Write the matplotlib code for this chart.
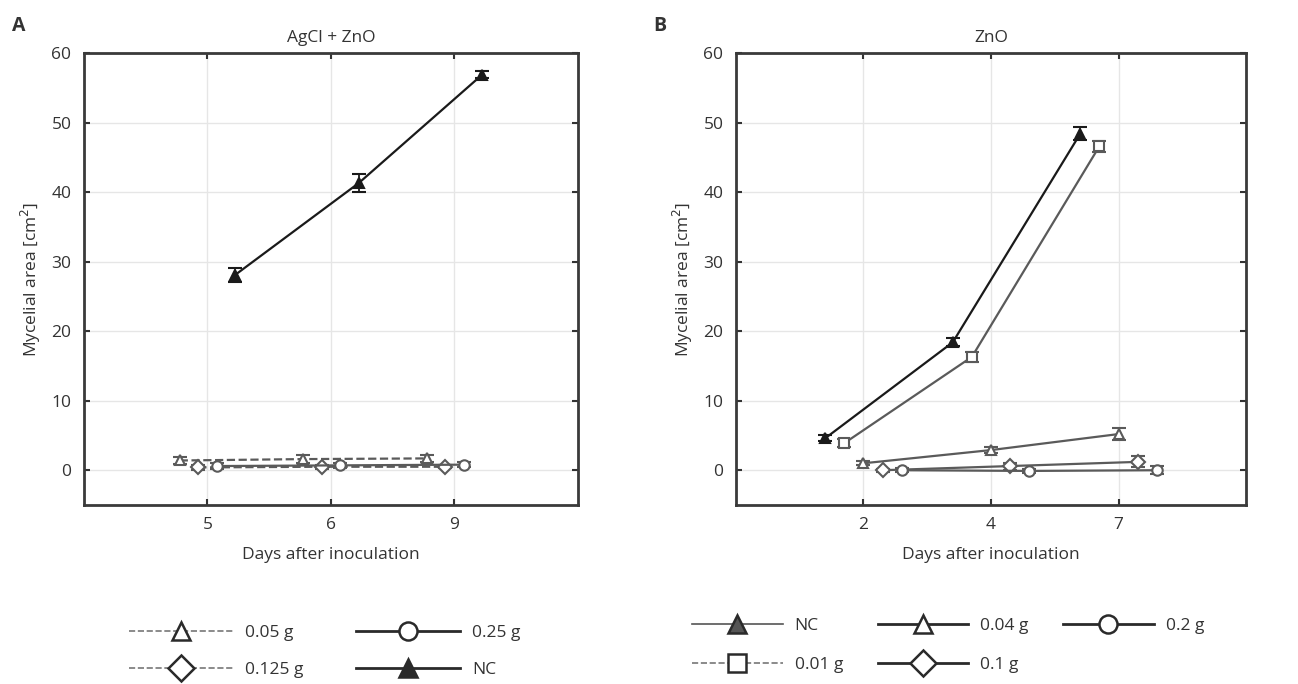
import numpy as np
import matplotlib.pyplot as plt
from matplotlib.lines import Line2D

plt.rcParams['font.family'] = ['Open Sans', 'DejaVu Sans']
plt.rcParams['text.color'] = '#333333'
plt.rcParams['axes.labelcolor'] = '#333333'
plt.rcParams['xtick.color'] = '#333333'
plt.rcParams['ytick.color'] = '#333333'

# panel A: AgCl + ZnO
days_a = ['5', '6', '9']
a_labels = ['0.05 g', '0.125 g', '0.25 g', 'NC']
a_005 = [1.4, 1.6, 1.7]
a_005_err = [0.5, 0.6, 0.5]
a_0125 = [0.4, 0.5, 0.5]
a_0125_err = [0.4, 0.3, 0.2]
a_025 = [0.6, 0.7, 0.8]
a_025_err = [0.4, 0.4, 0.4]
a_nc = [28.1, 41.3, 56.9]
a_nc_err = [1.0, 1.3, 0.5]

# panel B: ZnO
days_b = ['2', '4', '7']
b_labels = ['NC', '0.01 g', '0.04 g', '0.1 g', '0.2 g']
b_nc = [4.6, 18.4, 48.4]
b_nc_err = [0.4, 0.6, 0.9]
b_001 = [3.9, 16.3, 46.6]
b_001_err = [0.6, 0.7, 0.8]
b_004 = [1.0, 2.9, 5.2]
b_004_err = [0.3, 0.4, 0.9]
b_01 = [0.0, 0.6, 1.2]
b_01_err = [0.2, 0.5, 0.8]
b_02 = [0.0, -0.1, 0.0]
b_02_err = [0.3, 0.3, 0.6]

grey = '#5a5a5a'
black = '#1a1a1a'

fig = plt.figure(figsize=(12.98, 6.84), dpi=100)
axA = fig.add_axes([0.0647, 0.2617, 0.3806, 0.6608])
axB = fig.add_axes([0.567, 0.2617, 0.393, 0.6608])


def draw(ax, x, y, err, off, marker, ls, color, filled=False):
    xs = np.arange(len(x)) + off
    ax.errorbar(xs, y, yerr=err, marker=marker, ls=ls, color=color, lw=1.6,
                ms=7.5, mew=1.5, mfc=color if filled else 'white', mec=color,
                capsize=5, elinewidth=1.3, capthick=1.5, zorder=3)


draw(axA, days_a, a_005, a_005_err, -0.225, '^', '--', grey)
draw(axA, days_a, a_0125, a_0125_err, -0.075, 'D', '--', grey)
draw(axA, days_a, a_025, a_025_err, 0.075, 'o', '-', grey)
draw(axA, days_a, a_nc, a_nc_err, 0.225, '^', '-', black, filled=True)

draw(axB, days_b, b_nc, b_nc_err, -0.3, '^', '-', black, filled=True)
draw(axB, days_b, b_001, b_001_err, -0.15, 's', '-', grey)
draw(axB, days_b, b_004, b_004_err, 0.0, '^', '-', grey)
draw(axB, days_b, b_01, b_01_err, 0.15, 'D', '-', grey)
draw(axB, days_b, b_02, b_02_err, 0.3, 'o', '-', grey)

for ax, days, title in [(axA, days_a, 'AgCl + ZnO'), (axB, days_b, 'ZnO')]:
    ax.set_xlim(-1, 3)
    ax.set_ylim(-5, 60)
    ax.set_xticks(range(len(days)))
    ax.set_xticklabels(days)
    ax.set_yticks(range(0, 61, 10))
    ax.grid(True, color='#e6e6e6', lw=1)
    ax.set_axisbelow(True)
    ax.tick_params(direction='in', top=True, right=True, length=4, width=1.5,
                   labelsize=12.5, pad=9)
    for s in ax.spines.values():
        s.set_linewidth(2)
        s.set_color('#3a3a3a')
    ax.set_title(title, fontsize=12.5, pad=8)
    ax.set_xlabel('Days after inoculation', fontsize=12.5, labelpad=10)
    ax.set_ylabel('Mycelial area [cm$^2$]', fontsize=12.5, labelpad=6)

fig.text(0.009, 0.955, 'A', fontsize=14, fontweight='bold', color='#333333')
fig.text(0.503, 0.955, 'B', fontsize=14, fontweight='bold', color='#333333')


def proxy(marker, ls, color, lw, filled=False):
    return Line2D([], [], marker=marker, ls=ls, color=color, lw=lw, ms=13,
                  mew=1.8, mfc=color if filled else 'white', mec='#2a2a2a')


hA = [proxy('^', '--', '#777777', 1.2), proxy('D', '--', '#777777', 1.2),
      proxy('o', '-', '#2a2a2a', 2), proxy('^', '-', '#2a2a2a', 2, True)]
fig.legend(hA, a_labels, ncol=2, loc='upper left', bbox_to_anchor=(0.094, 0.0965),
           frameon=False, fontsize=12.5, handlelength=6, columnspacing=3.0,
           handletextpad=0.7, labelspacing=1.18, borderaxespad=0)

hB = [proxy('^', '-', '#555555', 1.2, True), proxy('s', '--', '#777777', 1.2),
      proxy('^', '-', '#2a2a2a', 2), proxy('D', '-', '#2a2a2a', 2),
      proxy('o', '-', '#2a2a2a', 2)]
fig.legend(hB, b_labels, ncol=3, loc='upper left', bbox_to_anchor=(0.528, 0.107),
           frameon=False, fontsize=12.5, handlelength=5.2, columnspacing=2.0,
           handletextpad=0.7, labelspacing=1.35, borderaxespad=0)

fig.savefig('out.png', dpi=100)
